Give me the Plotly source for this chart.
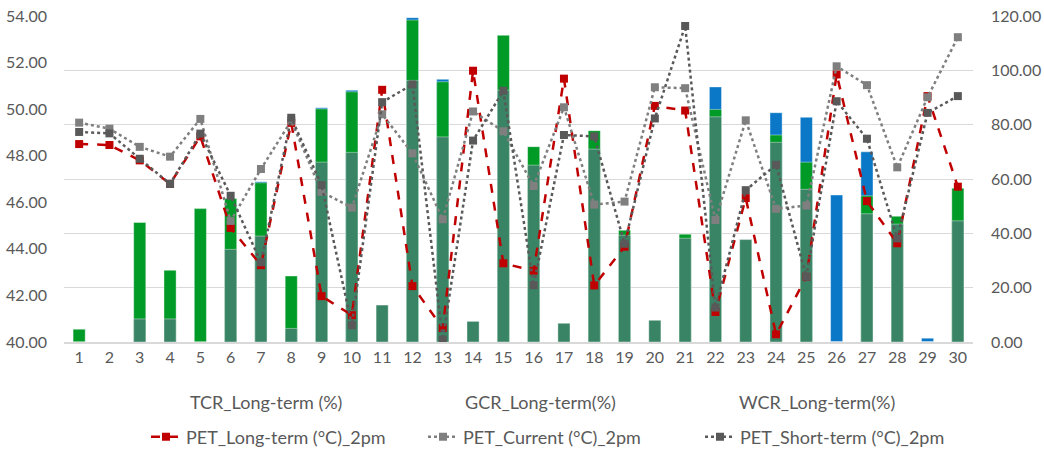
import plotly.graph_objects as go

categories = [str(i) for i in range(1, 31)]

# Bar values (%), right axis
tcr_long = [0, 0, 8.5, 8.5, 0, 34.1, 39.0, 5.0, 66.2, 69.8,
            13.6, 96.3, 75.5, 7.6, 92.7, 65.1, 6.9, 71.0, 39.3, 8.0,
            38.2, 82.9, 37.7, 73.5, 56.2, 0, 47.2, 43.4, 0, 44.6]
gcr_long = [4.7, 0, 44.0, 26.4, 49.1, 52.8, 58.6, 24.3, 85.8, 92.1,
            0, 118.5, 95.8, 0, 112.9, 71.9, 0, 77.8, 41.1, 0,
            39.7, 85.6, 0, 76.2, 66.2, 0, 53.8, 46.3, 0, 56.6]
wcr_long = [0, 0, 0, 0, 0, 0, 59.0, 0, 86.2, 92.7,
            0, 119.4, 96.7, 0, 0, 0, 0, 0, 0, 0,
            0, 93.9, 0, 84.4, 82.7, 54.1, 70.0, 0, 1.4, 0]

# PET values (°C), left axis
pet_long = [48.50, 48.46, 47.80, 46.79, 48.83, 44.90, 43.30, 49.41, 41.97, 41.15,
            50.83, 42.40, 40.60, 51.65, 43.38, 43.06, 51.31, 42.43, 44.09, 50.14,
            49.94, 41.29, 46.18, 40.33, 42.80, 51.49, 46.05, 44.24, 50.56, 46.67]
pet_current = [49.42, 49.16, 48.38, 47.96, 49.58, 45.20, 47.43, 49.50, 46.45, 45.77,
               49.78, 48.10, 45.27, 49.90, 49.05, 46.70, 50.08, 45.90, 46.03, 50.94,
               50.90, 45.24, 49.52, 45.72, 45.86, 51.84, 51.03, 47.50, 50.51, 53.09]
pet_short = [49.02, 48.96, 47.87, 46.79, 48.95, 46.28, 43.42, 49.63, 46.74, 40.72,
             50.30, 51.06, 40.10, 48.65, 50.79, 42.44, 48.89, 48.83, 44.22, 49.60,
             53.57, 41.48, 46.52, 47.61, 42.80, 50.34, 48.73, 44.45, 49.84, 50.56]

bar_labels = ["TCR_Long-term (%)", "GCR_Long-term(%)", "WCR_Long-term(%)"]
line_labels = ["PET_Long-term (°C)_2pm", "PET_Current (°C)_2pm", "PET_Short-term (°C)_2pm"]

FONT = "Lato"
TXT = "#595959"
FS = 16      # tick labels
FL = 18      # legend-like texts

L, R, T, B = 64, 973, 16, 342
PW, PH = R - L, B - T

fig = go.Figure()

# bars on base axis (drawn below the overlaying lines)
fig.add_trace(go.Bar(x=categories, y=wcr_long, name=bar_labels[2], marker_color="#0A78C6",
                     marker_line=dict(color="rgba(255,255,255,0.4)", width=1),
                     width=0.4, showlegend=False, yaxis="y"))
fig.add_trace(go.Bar(x=categories, y=gcr_long, name=bar_labels[1], marker_color="#009A27",
                     marker_line=dict(color="rgba(255,255,255,0.4)", width=1),
                     width=0.4, showlegend=False, yaxis="y"))
fig.add_trace(go.Bar(x=categories, y=tcr_long, name=bar_labels[0], marker_color="#3A8466",
                     marker_line=dict(color="rgba(255,255,255,0.4)", width=1),
                     width=0.4, showlegend=False, yaxis="y"))

fig.add_trace(go.Scatter(x=categories, y=pet_long, name=line_labels[0], yaxis="y2",
                         mode="lines+markers",
                         line=dict(color="#C00000", width=2.5, dash="dash"),
                         marker=dict(symbol="square", size=8, color="#C00000")))
fig.add_trace(go.Scatter(x=categories, y=pet_current, name=line_labels[1], yaxis="y2",
                         mode="lines+markers",
                         line=dict(color="#7F7F7F", width=2.5, dash="dot"),
                         marker=dict(symbol="square", size=8, color="#7F7F7F")))
fig.add_trace(go.Scatter(x=categories, y=pet_short, name=line_labels[2], yaxis="y2",
                         mode="lines+markers",
                         line=dict(color="#595959", width=2.5, dash="dot"),
                         marker=dict(symbol="square", size=8, color="#595959")))

annotations = []
for lbl, xpos in zip(bar_labels, [266, 540, 817]):
    annotations.append(dict(text=lbl, xref="paper", yref="paper",
                            x=(xpos - L) / PW, y=(B - 402) / PH,
                            xanchor="center", yanchor="middle", showarrow=False,
                            font=dict(family=FONT, size=FL, color=TXT)))

fig.update_layout(
    width=1044, height=450,
    margin=dict(l=L, r=1044 - R, t=T, b=450 - B, autoexpand=False),
    paper_bgcolor="white", plot_bgcolor="white",
    barmode="overlay",
    font=dict(family=FONT, size=FS, color=TXT),
    xaxis=dict(type="category", range=[-0.5, 29.5], showgrid=False, showline=True,
               linecolor="#D9D9D9", linewidth=1.5, ticks="",
               tickfont=dict(size=FS, color=TXT)),
    yaxis=dict(range=[0, 120], dtick=20, side="right", tickformat=".2f",
               showgrid=True, gridcolor="#D9D9D9", gridwidth=1.2, zeroline=False,
               ticklabelstandoff=17, tickfont=dict(size=FS, color=TXT)),
    yaxis2=dict(range=[40, 54], dtick=2, side="left", overlaying="y", tickformat=".2f",
                showgrid=False, zeroline=False, ticklabelstandoff=16,
                tickfont=dict(size=FS, color=TXT)),
    legend=dict(orientation="h", x=(146 - L) / PW, xanchor="left",
                y=(B - 437) / PH, yanchor="middle",
                font=dict(family=FONT, size=FL, color=TXT),
                entrywidth=232, traceorder="normal"),
    annotations=annotations,
)

fig.write_html("out.html")
